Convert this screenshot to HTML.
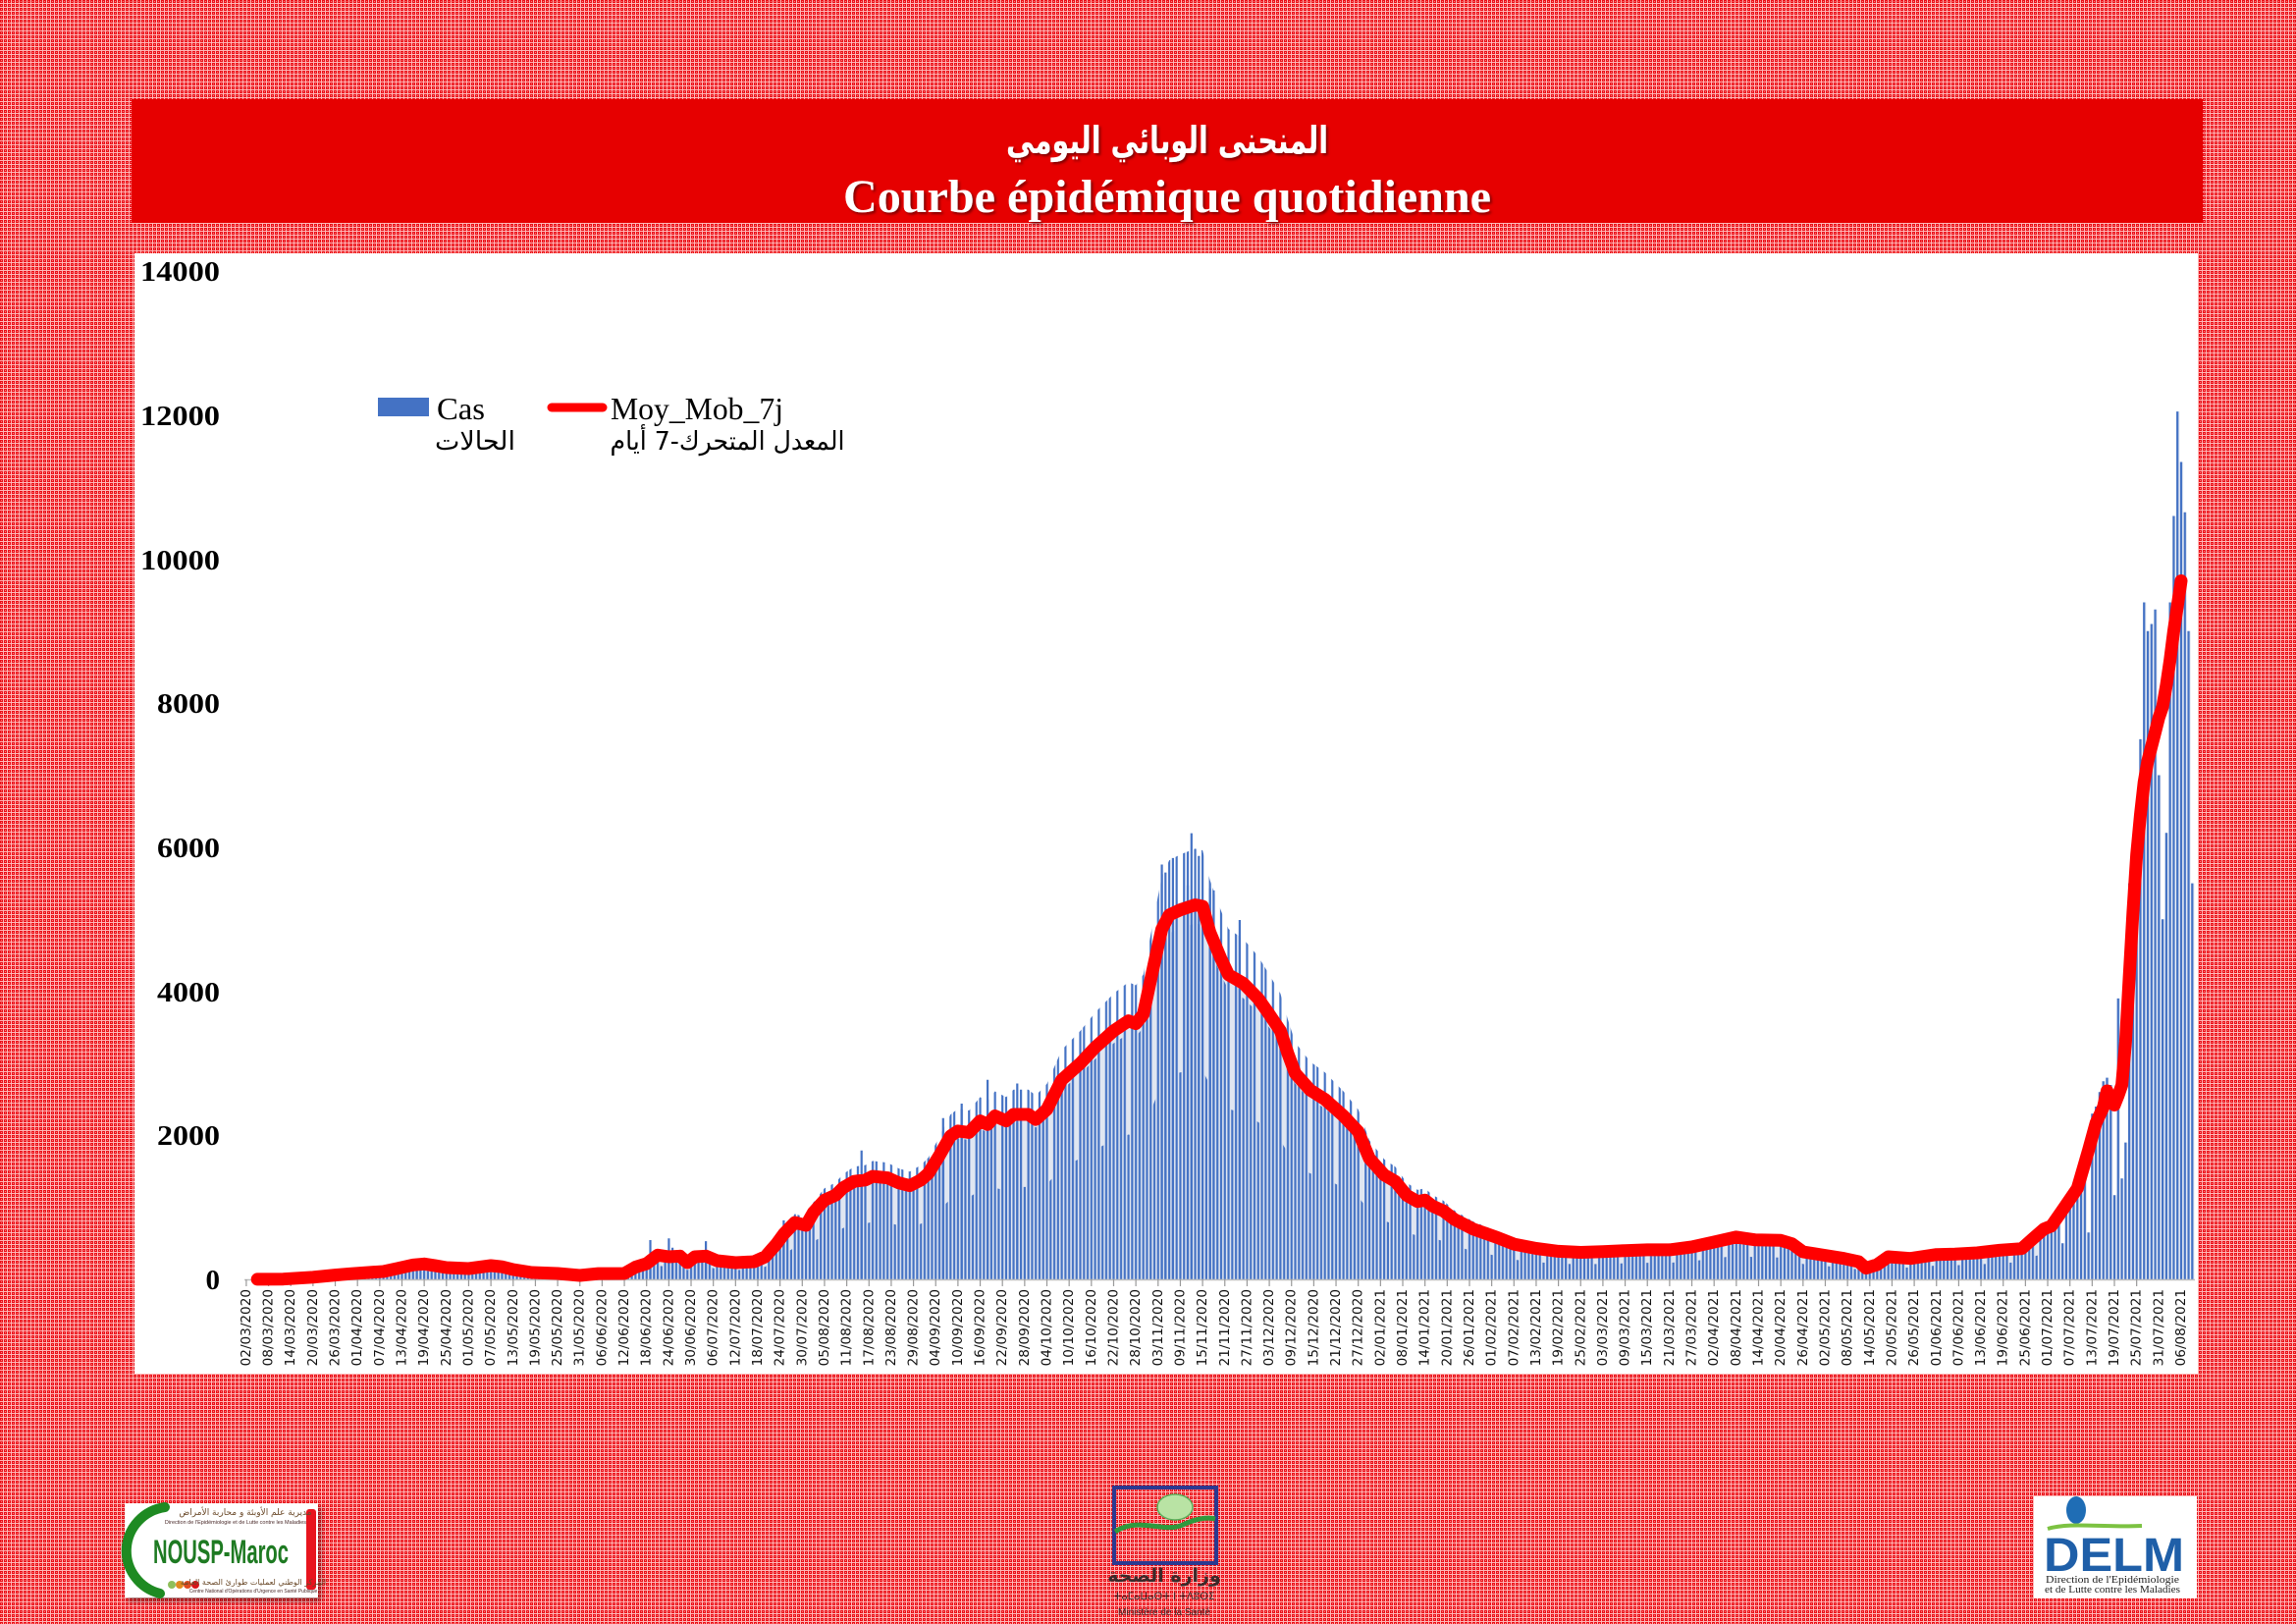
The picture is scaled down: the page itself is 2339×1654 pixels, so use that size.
<!DOCTYPE html>
<html><head><meta charset="utf-8"><title>Courbe épidémique quotidienne</title>
<style>
html,body{margin:0;padding:0;background:#e8141e;}
svg{display:block;}
</style></head>
<body>
<svg xmlns="http://www.w3.org/2000/svg" width="2339" height="1654" viewBox="0 0 2339 1654">
<defs>
<pattern id="bg" width="4" height="4" patternUnits="userSpaceOnUse">
<rect width="4" height="4" fill="#ea1018"/>
<rect x="3" y="0" width="1" height="4" fill="#ffb8b8"/>
<rect x="0" y="3" width="4" height="1" fill="#ffb8b8"/>
<rect x="1" y="1" width="1" height="1" fill="#ff8080"/>
</pattern>
<pattern id="p1" x="249" y="0" width="26.432" height="10" patternUnits="userSpaceOnUse">
<rect x="4.576" y="0" width="2.2" height="10" fill="#4472c4"/>
<rect x="8.352" y="0" width="2.2" height="10" fill="#4472c4"/>
<rect x="15.904" y="0" width="2.2" height="10" fill="#4472c4"/>
<rect x="23.456" y="0" width="2.2" height="10" fill="#4472c4"/>
</pattern>
<pattern id="p2" x="249" y="0" width="26.432" height="10" patternUnits="userSpaceOnUse">
<rect x="12.128" y="0" width="2.2" height="10" fill="#4472c4"/>
<rect x="19.68" y="0" width="2.2" height="10" fill="#4472c4"/>
</pattern>
<pattern id="p3" x="249" y="0" width="26.432" height="10" patternUnits="userSpaceOnUse">
<rect x="0.8" y="0" width="2.2" height="10" fill="#4472c4"/>
</pattern>
<polygon id="env" points="249,0 262.2,-0.1 288.6,-0.3 318.9,-2.2 341.5,-4.4 356.6,-5.7 375.5,-7 390.6,-8 405.7,-11.3 420.8,-14.7 432.1,-15.7 443.5,-13.9 454.8,-12 477.5,-11 500.1,-14 511.4,-12.8 522.8,-10 541.6,-7 568.1,-6 590.7,-4 609.6,-5.9 636,-6 647.4,-12.5 658.7,-16 670,-24.7 681.4,-23 692.7,-23.7 700.2,-17 707.8,-23 719.1,-23.7 730.4,-19 749.3,-17 768.2,-18 779.5,-23 790.9,-35.9 798.4,-46.2 809.7,-57.9 821.1,-55 828.6,-68.2 839.9,-80.7 851.3,-85.8 858.8,-93.2 870.1,-99.8 881.5,-101.2 889,-104.9 904.1,-103.4 915.5,-98.3 926.8,-95.4 938.1,-101.2 945.7,-107.8 957,-126.2 968.3,-146 975.9,-151.1 987.2,-149.6 998.5,-161.4 1006.1,-157.7 1013.6,-166.5 1025,-161.4 1032.5,-168 1047.6,-168 1055.2,-162.8 1066.5,-173.1 1081.6,-203.2 1100.5,-220 1115.6,-236.2 1134.5,-253.1 1149.6,-263.3 1157.1,-260.4 1164.7,-269.9 1176,-322.7 1183.5,-356.5 1191.1,-371.1 1202.4,-376.3 1217.5,-381.4 1225.1,-380 1232.6,-353.5 1243.9,-326.4 1251.5,-310.3 1266.6,-301.5 1281.7,-286.1 1293.1,-269.9 1304.4,-253.1 1311.9,-230.3 1319.5,-209.8 1334.6,-192.9 1349.7,-183.4 1368.6,-166.5 1383.7,-150.4 1395,-123.2 1410.1,-106.4 1421.4,-99.8 1432.8,-85.8 1444.1,-79.2 1451.7,-80.7 1459.2,-74.8 1470.5,-69.7 1481.9,-60.9 1500.7,-51.3 1523.4,-43.3 1542.3,-35.9 1564.9,-31.5 1587.6,-28.6 1610.3,-27.5 1632.9,-28.2 1655.6,-29.3 1678.2,-30.1 1700.9,-30.1 1723.5,-33 1746.2,-38 1768.8,-43.1 1787.7,-40.3 1814.2,-39.7 1825.5,-36.3 1836.8,-28 1855.7,-25 1878.4,-21.3 1893.5,-18 1901,-11.4 1912.3,-15 1923.7,-23 1946.3,-21.3 1972.8,-25.3 1991.6,-25.7 2014.3,-27 2037,-29.7 2059.6,-31.3 2070.9,-41.4 2076.6,-44 2076.6,0"/>
<filter id="ts" x="-5%" y="-20%" width="110%" height="140%">
<feDropShadow dx="2" dy="2" stdDeviation="1.2" flood-color="#500" flood-opacity="0.7"/>
</filter>
<filter id="ls" x="-10%" y="-10%" width="130%" height="130%">
<feDropShadow dx="3" dy="4" stdDeviation="3" flood-color="#000" flood-opacity="0.35"/>
</filter>
</defs>

<rect width="2339" height="1654" fill="url(#bg)"/>

<!-- header -->
<rect x="134" y="101" width="2110" height="126" fill="#e60000"/>
<g filter="url(#ts)" fill="#fff" text-anchor="middle">
<text x="1189" y="156" font-family="'DejaVu Sans', sans-serif" font-weight="bold" font-size="38" direction="rtl" textLength="328" lengthAdjust="spacingAndGlyphs">المنحنى الوبائي اليومي</text>
<text x="1189" y="216" font-family="'Liberation Serif', serif" font-weight="bold" font-size="48" textLength="660" lengthAdjust="spacingAndGlyphs">Courbe épidémique quotidienne</text>
</g>

<!-- chart panel -->
<rect x="137" y="258" width="2102" height="1141" fill="#ffffff"/>

<!-- y labels -->
<g font-family="'Liberation Serif', serif" font-weight="bold" font-size="29" fill="#000" text-anchor="end">
<text x="224" y="286" textLength="81" lengthAdjust="spacingAndGlyphs">14000</text>
<text x="224" y="433" textLength="81" lengthAdjust="spacingAndGlyphs">12000</text>
<text x="224" y="580" textLength="81" lengthAdjust="spacingAndGlyphs">10000</text>
<text x="224" y="726" textLength="64" lengthAdjust="spacingAndGlyphs">8000</text>
<text x="224" y="873" textLength="64" lengthAdjust="spacingAndGlyphs">6000</text>
<text x="224" y="1020" textLength="64" lengthAdjust="spacingAndGlyphs">4000</text>
<text x="224" y="1166" textLength="64" lengthAdjust="spacingAndGlyphs">2000</text>
<text x="224" y="1313">0</text>
</g>

<!-- bars (envelope with striped patterns) -->
<use href="#env" transform="translate(0,1303) scale(1,1.02)" fill="#e0e6f1"/>
<use href="#env" transform="translate(0,1303) scale(1,1.15)" fill="url(#p1)"/>
<use href="#env" transform="translate(0,1303) scale(1,0.95)" fill="url(#p2)"/>
<use href="#env" transform="translate(0,1303) scale(1,0.56)" fill="url(#p3)"/>

<!-- individual spike bars -->
<path fill="#4472c4" d="M423.5 1303v-21.3h2.2v21.3M661.4 1303v-40h2.2v40M680.3 1303v-41.8h2.2v41.8M684 1303v-32.3h2.2v32.3M718 1303v-38.9h2.2v38.9M797.3 1303v-60.1h2.2v60.1M876.6 1303v-131.3h2.2v131.3M959.7 1303v-164.3h2.2v164.3M978.6 1303v-179h2.2v179M1005 1303v-203.2h2.2v203.2M1035.2 1303v-199.5h2.2v199.5M1182.5 1303v-422.5h2.2v422.5M1186.2 1303v-414.4h2.2v414.4M1193.8 1303v-429.1h2.2v429.1M1208.9 1303v-401.2h2.2v401.2M1212.7 1303v-454.4h2.2v454.4M1220.2 1303v-431.3h2.2v431.3M1231.6 1303v-398.3h2.2v398.3M1235.3 1303v-396.1h2.2v396.1M1261.8 1303v-366h2.2v366"/>

<!-- end-of-series bars: shadows -->
<path fill="#e0e6f1" d="M2077.2 1303v-44h3.4v44m0.376 0v-49.9h3.4v49.9m0.376 0v-55h3.4v55m0.376 0v-58.7h3.4v58.7m0.376 0v-66h3.4v66m0.376 0v-69.7h3.4v69.7m0.376 0v-36.7h3.4v36.7m0.376 0v-80.7h3.4v80.7m0.376 0v-88h3.4v88m0.376 0v-95.4h3.4v95.4m0.376 0v-102.7h3.4v102.7m0.376 0v-110h3.4v110m0.376 0v-124.7h3.4v124.7m0.376 0v-47.7h3.4v47.7m0.376 0v-168.7h3.4v168.7m0.376 0v-176h3.4v176m0.376 0v-190.7h3.4v190.7m0.376 0v-201.7h3.4v201.7m0.376 0v-205.4h3.4v205.4m0.376 0v-198h3.4v198m0.376 0v-85.8h3.4v85.8m0.376 0v-286.1h3.4v286.1m0.376 0v-102.7h3.4v102.7m0.376 0v-139.4h3.4v139.4m0.376 0v-403.4h3.4v403.4m0.376 0v-440.1h3.4v440.1m0.376 0v-454.8h3.4v454.8m0.376 0v-550.1h3.4v550.1m0.376 0v-689.5h3.4v689.5m0.376 0v-660.2h3.4v660.2m0.376 0v-667.5h3.4v667.5m0.376 0v-682.2h3.4v682.2m0.376 0v-513.5h3.4v513.5m0.376 0v-366.8h3.4v366.8m0.376 0v-454.8h3.4v454.8m0.376 0v-689.5h3.4v689.5m0.376 0v-777.5h3.4v777.5m0.376 0v-883.9h3.4v883.9m0.376 0v-832.5h3.4v832.5m0.376 0v-781.2h3.4v781.2m0.376 0v-660.2h3.4v660.2m0.376 0v-403.4h3.4v403.4"/>
<!-- end-of-series bars -->
<path fill="#4472c4" d="M2077.4 1303v-44h2.2v44m1.576 0v-49.9h2.2v49.9m1.576 0v-55h2.2v55m1.576 0v-58.7h2.2v58.7m1.576 0v-66h2.2v66m1.576 0v-69.7h2.2v69.7m1.576 0v-36.7h2.2v36.7m1.576 0v-80.7h2.2v80.7m1.576 0v-88h2.2v88m1.576 0v-95.4h2.2v95.4m1.576 0v-102.7h2.2v102.7m1.576 0v-110h2.2v110m1.576 0v-124.7h2.2v124.7m1.576 0v-47.7h2.2v47.7m1.576 0v-168.7h2.2v168.7m1.576 0v-176h2.2v176m1.576 0v-190.7h2.2v190.7m1.576 0v-201.7h2.2v201.7m1.576 0v-205.4h2.2v205.4m1.576 0v-198h2.2v198m1.576 0v-85.8h2.2v85.8m1.576 0v-286.1h2.2v286.1m1.576 0v-102.7h2.2v102.7m1.576 0v-139.4h2.2v139.4m1.576 0v-403.4h2.2v403.4m1.576 0v-440.1h2.2v440.1m1.576 0v-454.8h2.2v454.8m1.576 0v-550.1h2.2v550.1m1.576 0v-689.5h2.2v689.5m1.576 0v-660.2h2.2v660.2m1.576 0v-667.5h2.2v667.5m1.576 0v-682.2h2.2v682.2m1.576 0v-513.5h2.2v513.5m1.576 0v-366.8h2.2v366.8m1.576 0v-454.8h2.2v454.8m1.576 0v-689.5h2.2v689.5m1.576 0v-777.5h2.2v777.5m1.576 0v-883.9h2.2v883.9m1.576 0v-832.5h2.2v832.5m1.576 0v-781.2h2.2v781.2m1.576 0v-660.2h2.2v660.2m1.576 0v-403.4h2.2v403.4"/>

<!-- axis -->
<line x1="249" y1="1303.5" x2="2236" y2="1303.5" stroke="#bfbfbf" stroke-width="1.5"/>
<path stroke="#9a9a9a" stroke-width="1.2" fill="none" d="M250.9 1303v7m22.656-7v7m22.656-7v7m22.656-7v7m22.656-7v7m22.656-7v7m22.656-7v7m22.656-7v7m22.656-7v7m22.656-7v7m22.656-7v7m22.656-7v7m22.656-7v7m22.656-7v7m22.656-7v7m22.656-7v7m22.656-7v7m22.656-7v7m22.656-7v7m22.656-7v7m22.656-7v7m22.656-7v7m22.656-7v7m22.656-7v7m22.656-7v7m22.656-7v7m22.656-7v7m22.656-7v7m22.656-7v7m22.656-7v7m22.656-7v7m22.656-7v7m22.656-7v7m22.656-7v7m22.656-7v7m22.656-7v7m22.656-7v7m22.656-7v7m22.656-7v7m22.656-7v7m22.656-7v7m22.656-7v7m22.656-7v7m22.656-7v7m22.656-7v7m22.656-7v7m22.656-7v7m22.656-7v7m22.656-7v7m22.656-7v7m22.656-7v7m22.656-7v7m22.656-7v7m22.656-7v7m22.656-7v7m22.656-7v7m22.656-7v7m22.656-7v7m22.656-7v7m22.656-7v7m22.656-7v7m22.656-7v7m22.656-7v7m22.656-7v7m22.656-7v7m22.656-7v7m22.656-7v7m22.656-7v7m22.656-7v7m22.656-7v7m22.656-7v7m22.656-7v7m22.656-7v7m22.656-7v7m22.656-7v7m22.656-7v7m22.656-7v7m22.656-7v7m22.656-7v7m22.656-7v7m22.656-7v7m22.656-7v7m22.656-7v7m22.656-7v7m22.656-7v7m22.656-7v7"/>

<!-- moving average -->
<polyline fill="none" stroke="#ff0000" stroke-width="13" stroke-linejoin="round" stroke-linecap="round" points="262.2,1302.9 288.6,1302.7 318.9,1300.8 341.5,1298.6 356.6,1297.3 375.5,1296 390.6,1295 405.7,1291.7 420.8,1288.3 432.1,1287.3 443.5,1289.1 454.8,1291 477.5,1292 500.1,1289 511.4,1290.2 522.8,1293 541.6,1296 568.1,1297 590.7,1299 609.6,1297.1 636,1297 647.4,1290.5 658.7,1287 670,1278.3 681.4,1280 692.7,1279.3 700.2,1286 707.8,1280 719.1,1279.3 730.4,1284 749.3,1286 768.2,1285 779.5,1280 790.9,1267.1 798.4,1256.8 809.7,1245.1 821.1,1248 828.6,1234.8 839.9,1222.3 851.3,1217.2 858.8,1209.8 870.1,1203.2 881.5,1201.8 889,1198.1 904.1,1199.6 915.5,1204.7 926.8,1207.6 938.1,1201.8 945.7,1195.2 957,1176.8 968.3,1157 975.9,1151.9 987.2,1153.4 998.5,1141.6 1006.1,1145.3 1013.6,1136.5 1025,1141.6 1032.5,1135 1047.6,1135 1055.2,1140.2 1066.5,1129.9 1081.6,1099.8 1100.5,1083 1115.6,1066.8 1134.5,1049.9 1149.6,1039.7 1157.1,1042.6 1164.7,1033.1 1176,980.3 1183.5,946.5 1191.1,931.9 1202.4,926.7 1217.5,921.6 1225.1,923 1232.6,949.5 1243.9,976.6 1251.5,992.7 1266.6,1001.5 1281.7,1016.9 1293.1,1033.1 1304.4,1049.9 1311.9,1072.7 1319.5,1093.2 1334.6,1110.1 1349.7,1119.6 1368.6,1136.5 1383.7,1152.6 1395,1179.8 1410.1,1196.6 1421.4,1203.2 1432.8,1217.2 1444.1,1223.8 1451.7,1222.3 1459.2,1228.2 1470.5,1233.3 1481.9,1242.1 1500.7,1251.7 1523.4,1259.7 1542.3,1267.1 1564.9,1271.5 1587.6,1274.4 1610.3,1275.5 1632.9,1274.8 1655.6,1273.7 1678.2,1272.9 1700.9,1272.9 1723.5,1270 1746.2,1265 1768.8,1259.9 1787.7,1262.7 1814.2,1263.3 1825.5,1266.7 1836.8,1275 1855.7,1278 1878.4,1281.7 1893.5,1285 1901,1291.6 1912.3,1288 1923.7,1280 1946.3,1281.7 1972.8,1277.7 1991.6,1277.3 2014.3,1276 2037,1273.3 2059.6,1271.7 2070.9,1261.6 2082.3,1251.7 2089.8,1248.7 2101.2,1232.3 2116.3,1210.3 2127.6,1171.5 2135.2,1143.8 2142.7,1127.8 2146.5,1111 2150.3,1121.5 2154,1125.5 2157.8,1116 2161.6,1105 2165.4,1061 2169.1,995.4 2172.9,928.9 2176.7,870.2 2180.5,829.9 2184.2,796.9 2188,774.9 2191.8,760.2 2195.6,745.5 2199.3,730.9 2203.1,719.9 2206.9,697.9 2210.7,672.2 2214.4,642.9 2218.2,617.2 2222,591.5"/>

<!-- legend -->
<rect x="385" y="405" width="52" height="19" fill="#4472c4"/>
<line x1="562" y1="415" x2="614" y2="415" stroke="#ff0000" stroke-width="9" stroke-linecap="round"/>
<g font-family="'Liberation Serif', serif" font-size="32" fill="#000">
<text x="445" y="427" textLength="49" lengthAdjust="spacingAndGlyphs">Cas</text>
<text x="622" y="427" textLength="176" lengthAdjust="spacingAndGlyphs">Moy_Mob_7j</text>
</g>
<g font-family="'DejaVu Sans', sans-serif" font-size="26" fill="#000" text-anchor="middle">
<text x="484" y="458" direction="rtl" textLength="82" lengthAdjust="spacingAndGlyphs">الحالات</text>
<text x="741" y="458" direction="rtl" textLength="239" lengthAdjust="spacingAndGlyphs">المعدل المتحرك-7 أيام</text>
</g>

<!-- x labels -->
<g transform="rotate(-90)" font-family="'DejaVu Sans', 'Liberation Sans', sans-serif" font-size="13.6" fill="#111" text-anchor="end" dominant-baseline="central">
<text x="-1313" y="250.9">02/03/2020</text>
<text x="-1313" y="273.6">08/03/2020</text>
<text x="-1313" y="296.2">14/03/2020</text>
<text x="-1313" y="318.9">20/03/2020</text>
<text x="-1313" y="341.5">26/03/2020</text>
<text x="-1313" y="364.2">01/04/2020</text>
<text x="-1313" y="386.8">07/04/2020</text>
<text x="-1313" y="409.5">13/04/2020</text>
<text x="-1313" y="432.1">19/04/2020</text>
<text x="-1313" y="454.8">25/04/2020</text>
<text x="-1313" y="477.5">01/05/2020</text>
<text x="-1313" y="500.1">07/05/2020</text>
<text x="-1313" y="522.8">13/05/2020</text>
<text x="-1313" y="545.4">19/05/2020</text>
<text x="-1313" y="568.1">25/05/2020</text>
<text x="-1313" y="590.7">31/05/2020</text>
<text x="-1313" y="613.4">06/06/2020</text>
<text x="-1313" y="636.0">12/06/2020</text>
<text x="-1313" y="658.7">18/06/2020</text>
<text x="-1313" y="681.4">24/06/2020</text>
<text x="-1313" y="704.0">30/06/2020</text>
<text x="-1313" y="726.7">06/07/2020</text>
<text x="-1313" y="749.3">12/07/2020</text>
<text x="-1313" y="772.0">18/07/2020</text>
<text x="-1313" y="794.6">24/07/2020</text>
<text x="-1313" y="817.3">30/07/2020</text>
<text x="-1313" y="840.0">05/08/2020</text>
<text x="-1313" y="862.6">11/08/2020</text>
<text x="-1313" y="885.3">17/08/2020</text>
<text x="-1313" y="907.9">23/08/2020</text>
<text x="-1313" y="930.6">29/08/2020</text>
<text x="-1313" y="953.2">04/09/2020</text>
<text x="-1313" y="975.9">10/09/2020</text>
<text x="-1313" y="998.5">16/09/2020</text>
<text x="-1313" y="1021.2">22/09/2020</text>
<text x="-1313" y="1043.9">28/09/2020</text>
<text x="-1313" y="1066.5">04/10/2020</text>
<text x="-1313" y="1089.2">10/10/2020</text>
<text x="-1313" y="1111.8">16/10/2020</text>
<text x="-1313" y="1134.5">22/10/2020</text>
<text x="-1313" y="1157.1">28/10/2020</text>
<text x="-1313" y="1179.8">03/11/2020</text>
<text x="-1313" y="1202.4">09/11/2020</text>
<text x="-1313" y="1225.1">15/11/2020</text>
<text x="-1313" y="1247.8">21/11/2020</text>
<text x="-1313" y="1270.4">27/11/2020</text>
<text x="-1313" y="1293.1">03/12/2020</text>
<text x="-1313" y="1315.7">09/12/2020</text>
<text x="-1313" y="1338.4">15/12/2020</text>
<text x="-1313" y="1361.0">21/12/2020</text>
<text x="-1313" y="1383.7">27/12/2020</text>
<text x="-1313" y="1406.4">02/01/2021</text>
<text x="-1313" y="1429.0">08/01/2021</text>
<text x="-1313" y="1451.7">14/01/2021</text>
<text x="-1313" y="1474.3">20/01/2021</text>
<text x="-1313" y="1497.0">26/01/2021</text>
<text x="-1313" y="1519.6">01/02/2021</text>
<text x="-1313" y="1542.3">07/02/2021</text>
<text x="-1313" y="1564.9">13/02/2021</text>
<text x="-1313" y="1587.6">19/02/2021</text>
<text x="-1313" y="1610.3">25/02/2021</text>
<text x="-1313" y="1632.9">03/03/2021</text>
<text x="-1313" y="1655.6">09/03/2021</text>
<text x="-1313" y="1678.2">15/03/2021</text>
<text x="-1313" y="1700.9">21/03/2021</text>
<text x="-1313" y="1723.5">27/03/2021</text>
<text x="-1313" y="1746.2">02/04/2021</text>
<text x="-1313" y="1768.8">08/04/2021</text>
<text x="-1313" y="1791.5">14/04/2021</text>
<text x="-1313" y="1814.2">20/04/2021</text>
<text x="-1313" y="1836.8">26/04/2021</text>
<text x="-1313" y="1859.5">02/05/2021</text>
<text x="-1313" y="1882.1">08/05/2021</text>
<text x="-1313" y="1904.8">14/05/2021</text>
<text x="-1313" y="1927.4">20/05/2021</text>
<text x="-1313" y="1950.1">26/05/2021</text>
<text x="-1313" y="1972.8">01/06/2021</text>
<text x="-1313" y="1995.4">07/06/2021</text>
<text x="-1313" y="2018.1">13/06/2021</text>
<text x="-1313" y="2040.7">19/06/2021</text>
<text x="-1313" y="2063.4">25/06/2021</text>
<text x="-1313" y="2086.0">01/07/2021</text>
<text x="-1313" y="2108.7">07/07/2021</text>
<text x="-1313" y="2131.3">13/07/2021</text>
<text x="-1313" y="2154.0">19/07/2021</text>
<text x="-1313" y="2176.7">25/07/2021</text>
<text x="-1313" y="2199.3">31/07/2021</text>
<text x="-1313" y="2222.0">06/08/2021</text>
</g>

<!-- left logo NOUSP -->
<g>
<rect x="127" y="1531" width="197" height="96" fill="#ffffff" filter="url(#ls)"/>
<rect x="312" y="1537" width="10" height="82" rx="3" fill="#e8141e"/>
<path d="M168 1535 A46 45 0 0 0 163 1623" fill="none" stroke="#1e8a22" stroke-width="10" stroke-linecap="round"/>
<text x="156" y="1592" font-family="'Liberation Sans', sans-serif" font-weight="bold" font-size="34" fill="#1e7a22" textLength="138" lengthAdjust="spacingAndGlyphs">NOUSP-Maroc</text>
<text x="250" y="1543" font-family="'DejaVu Sans', sans-serif" font-size="9" fill="#6b4a2a" text-anchor="middle" direction="rtl">مديرية علم الأوبئة و محاربة الأمراض</text>
<text x="240" y="1552" font-family="'Liberation Sans', sans-serif" font-size="5.5" fill="#4a2a2a" text-anchor="middle">Direction de l'Epidémiologie et de Lutte contre les Maladies</text>
<circle cx="175" cy="1614" r="4" fill="#8fbf5a"/>
<circle cx="183" cy="1614" r="4" fill="#e08a20"/>
<circle cx="191" cy="1614" r="4" fill="#e04a20"/>
<circle cx="199" cy="1614" r="4" fill="#d8141a"/>
<text x="258" y="1614" font-family="'DejaVu Sans', sans-serif" font-size="8" fill="#6b4a2a" text-anchor="middle" direction="rtl">المركز الوطني لعمليات طوارئ الصحة العامة</text>
<text x="258" y="1622" font-family="'Liberation Sans', sans-serif" font-size="5" fill="#4a2a2a" text-anchor="middle">Centre National d'Opérations d'Urgence en Santé Publique</text>
</g>

<!-- middle logo -->
<g>
<rect x="1135" y="1515" width="104" height="77" fill="none" stroke="#2b3990" stroke-width="4"/>
<ellipse cx="1197" cy="1535" rx="18" ry="13" fill="#b9e3a4" stroke="#5aae5a" stroke-width="1.5"/>
<path d="M1136 1560 C1160 1544 1185 1562 1205 1553 C1220 1546 1230 1545 1238 1547" fill="none" stroke="#2e9a3e" stroke-width="5"/>
<text x="1186" y="1611" font-family="'DejaVu Sans', sans-serif" font-weight="bold" font-size="19" fill="#3a2a2a" text-anchor="middle" direction="rtl">وزارة الصحة</text>
<text x="1186" y="1629" font-family="'DejaVu Sans', sans-serif" font-size="10" fill="#3a2a2a" text-anchor="middle">ⵜⴰⵎⴰⵡⴰⵙⵜ ⵏ ⵜⴷⵓⵙⵉ</text>
<text x="1186" y="1645" font-family="'Liberation Sans', sans-serif" font-size="10" fill="#3a2a2a" text-anchor="middle">Ministère de la Santé</text>
</g>

<!-- right logo DELM -->
<g>
<rect x="2072" y="1524" width="166" height="104" fill="#ffffff"/>
<ellipse cx="2115" cy="1538" rx="10" ry="14" fill="#1f6db5"/>
<path d="M2086 1557 C2110 1550 2140 1556 2182 1554" fill="none" stroke="#7cc242" stroke-width="4"/>
<text x="2082" y="1600" font-family="'Liberation Sans', sans-serif" font-weight="bold" font-size="48" fill="#1f5fa8" textLength="143" lengthAdjust="spacingAndGlyphs">DELM</text>
<text x="2152" y="1612" font-family="'Liberation Serif', serif" font-size="11" fill="#222" text-anchor="middle" textLength="136" lengthAdjust="spacingAndGlyphs">Direction de l'Epidémiologie</text>
<text x="2152" y="1622" font-family="'Liberation Serif', serif" font-size="11" fill="#222" text-anchor="middle" textLength="138" lengthAdjust="spacingAndGlyphs">et de Lutte contre les Maladies</text>
</g>
</svg>
</body></html>
